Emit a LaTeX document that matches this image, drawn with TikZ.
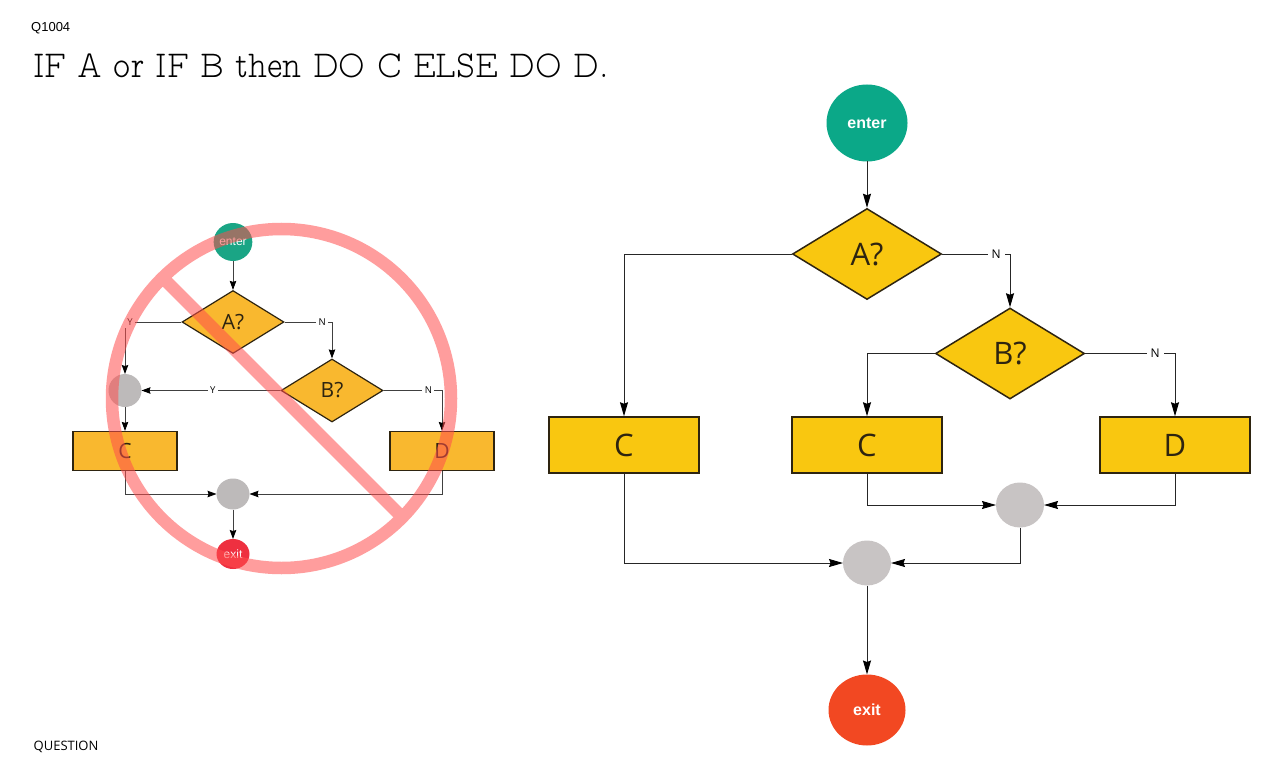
\documentclass[tikz,border=0pt]{standalone}
\usepackage{fontspec}
\setmainfont{Open Sans}
\newfontfamily\arialfont{Liberation Sans}
\newfontfamily\titlefont{Latin Modern Mono Prop Light}
\usetikzlibrary{arrows.meta,shapes.geometric}
\definecolor{bigyellow}{HTML}{F9C710}
\definecolor{smallyellow}{HTML}{F9B82F}
\definecolor{bigenter}{HTML}{0BA888}
\definecolor{smallenter}{HTML}{1AA585}
\definecolor{bigexit}{HTML}{F24822}
\definecolor{smallexit}{HTML}{EE3040}
\definecolor{bigjoin}{HTML}{C8C4C4}
\definecolor{smalljoin}{HTML}{BDBABA}
\definecolor{edgedark}{HTML}{2E2410}
\definecolor{banred}{HTML}{FF4D4D}
\tikzset{
  bigdecision/.style={diamond,draw=edgedark,text=edgedark,line width=1.5pt,fill=bigyellow,inner sep=0pt,
    minimum width=149pt,minimum height=91pt,font=\fontsize{31}{31}\selectfont},
  smalldecision/.style={diamond,draw=edgedark,text=edgedark,line width=1.2pt,fill=smallyellow,inner sep=0pt,
    minimum width=102pt,minimum height=63pt,font=\fontsize{21}{21}\selectfont},
  bigblock/.style={rectangle,draw=edgedark,text=edgedark,line width=1.5pt,fill=bigyellow,inner sep=0pt,
    minimum width=150pt,minimum height=56pt,font=\fontsize{31}{31}\selectfont},
  smallblock/.style={rectangle,draw=edgedark,text=edgedark,line width=1.2pt,fill=smallyellow,inner sep=0pt,
    minimum width=104pt,minimum height=39pt,font=\fontsize{21}{21}\selectfont},
  round/.style={ellipse,inner sep=0pt,outer sep=0pt},
  bigline/.style={line width=1pt,draw=black!85,-{Stealth[length=14pt,width=8pt,inset=1.5pt,black]}},
  smallline/.style={line width=.8pt,draw=black!75,-{Stealth[length=9pt,width=6.5pt,inset=1pt,black]}},
  biglabel/.style={fill=white,inner sep=4pt,font=\fontsize{12}{12}\selectfont},
  smalllabel/.style={fill=white,inner sep=2.5pt,font=\fontsize{9.5}{10}\selectfont},
}
\begin{document}
\begin{tikzpicture}[x=1pt,y=-1pt]
  \useasboundingbox[fill=white] (0,0) rectangle (1284,778);
  \node[font=\arialfont\fontsize{13}{14}\selectfont,anchor=west,inner sep=0pt] (qnumber) at (31,28.5) {Q1004};
  \node[font=\titlefont\fontsize{38}{38}\selectfont,anchor=west,inner sep=0pt,xscale=.857,transform shape] (qtitle) at (33,65.5) {IF A or IF B then DO C ELSE DO D.};
  \node[font=\fontsize{13}{14}\selectfont,anchor=west,inner sep=0pt] (qtag) at (33.5,746.5) {QUESTION};

  % the small chart
  \node[round,fill=smallenter,minimum width=38pt,minimum height=38pt,text=white,font=\arialfont\fontsize{12}{12}\selectfont] (senter) at (233,242) {enter};
  \node[smalldecision] (sa) at (233,322) {A?};
  \node[smalldecision] (sb) at (332,390.5) {B?};
  \node[round,fill=smalljoin,minimum width=33pt,minimum height=33pt] (sjoinup) at (125,390.5) {};
  \node[smallblock] (sc) at (125,451) {C};
  \node[smallblock] (sd) at (442,451) {D};
  \node[round,fill=smalljoin,minimum width=33pt,minimum height=31pt] (sjoindown) at (233,494) {};
  \node[round,fill=smallexit,minimum width=33pt,minimum height=30pt,text=white,font=\arialfont\fontsize{12}{12}\selectfont] (sexit) at (233,554) {exit};
  \draw[smallline] (senter) -- (sa);
  \draw[smallline] (sa.west) -| node[smalllabel,pos=.456] (say) {Y} (sjoinup.north);
  \draw[smallline] (sa.east) -| node[smalllabel,pos=.396] (san) {N} (sb.north);
  \draw[smallline] (sb.west) -- node[smalllabel,pos=.486] (sby) {Y} (sjoinup.east);
  \draw[smallline] (sb.east) -| node[smalllabel,pos=.383] (sbn) {N} (sd.north);
  \draw[smallline] (sjoinup) -- (sc);
  \draw[smallline] (sc.south) |- (sjoindown.west);
  \draw[smallline] (sd.south) |- (sjoindown.east);
  \draw[smallline] (sjoindown) -- (sexit);

  % the ban sign over it
  \draw[banred,draw opacity=.55,line width=12.5pt] (281.5,398.5) circle (169.5) (162,277) -- (402,517);

  % the big chart
  \node[round,fill=bigenter,minimum width=81pt,minimum height=77pt,text=white,font=\arialfont\bfseries\fontsize{16}{16}\selectfont] (enter) at (867,123) {enter};
  \node[bigdecision] (a) at (867,254) {A?};
  \node[bigdecision] (b) at (1010,353.5) {B?};
  \node[bigblock] (cleft) at (624,445) {C};
  \node[bigblock] (cright) at (867,445) {C};
  \node[bigblock] (d) at (1175,445) {D};
  \node[round,fill=bigjoin,minimum width=48pt,minimum height=45pt] (joinup) at (1020,505) {};
  \node[round,fill=bigjoin,minimum width=48pt,minimum height=45pt] (joindown) at (867,563) {};
  \node[round,fill=bigexit,minimum width=77pt,minimum height=71pt,text=white,font=\arialfont\bfseries\fontsize{16}{16}\selectfont] (exit) at (867,710) {exit};
  \draw[bigline] (enter) -- (a);
  \draw[bigline] (a.west) -| (cleft.north);
  \draw[bigline] (a.east) -| node[biglabel,pos=.397] (an) {N} (b.north);
  \draw[bigline] (b.west) -| (cright.north);
  \draw[bigline] (b.east) -| node[biglabel,pos=.39] (bn) {N} (d.north);
  \draw[bigline] (cright.south) |- (joinup.west);
  \draw[bigline] (d.south) |- (joinup.east);
  \draw[bigline] (cleft.south) |- (joindown.west);
  \draw[bigline] (joinup.south) |- (joindown.east);
  \draw[bigline] (joindown) -- (exit);
\end{tikzpicture}
\end{document}
